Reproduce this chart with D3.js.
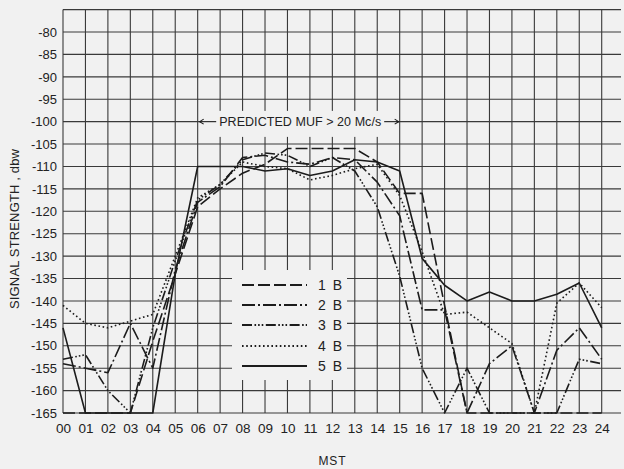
<!DOCTYPE html>
<html>
<head>
<meta charset="utf-8">
<script src="https://cdn.jsdelivr.net/npm/d3@7"></script>
<style>
  html, body { margin: 0; padding: 0; background: #f1f1f1; }
  svg { display: block; }
  text { font-family: "Liberation Sans", Arial, sans-serif; fill: #222; }
</style>
</head>
<body>
<svg id="chart" width="624" height="469"></svg>
<script>
// Hour of day (MST) on the x axis
const hourLabels = ["00","01","02","03","04","05","06","07","08","09","10","11","12",
                    "13","14","15","16","17","18","19","20","21","22","23","24"];
const hours = [0,1,2,3,4,5,6,7,8,9,10,11,12,13,14,15,16,17,18,19,20,21,22,23,24];

// Signal strength tick labels, dbw
const yTickValues = [-80,-85,-90,-95,-100,-105,-110,-115,-120,-125,-130,-135,
                     -140,-145,-150,-155,-160,-165];

// Hourly median signal strength (dbw) for each path
const sig1B = [-165,-165,-165,-165,-149,-134,-119,-115,-111.5,-109.5,-106,-106,-106,-106,
               -109,-116,-116,-141,-165,-165,-165,-165,-165,-165,-165];
const sig2B = [-154,-155,-156,-145,-155,-133,-118,-114.5,-108,-107.5,-109,-109.5,-108,-108.5,
               -113.5,-121,-142,-142,-165,-154,-150,-165,-151,-146,-153];
const sig3B = [-153,-152,-160,-165,-146,-131,-117.5,-114,-108.5,-107,-107.5,-110,-108,-111,
               -119,-134.5,-155,-165,-155,-165,-165,-165,-165,-153,-154];
const sig4B = [-141,-145,-146,-144.5,-143,-130,-117,-114,-109,-110,-110.5,-113,-112,-110.5,
               -109.5,-116.5,-129,-143,-142.5,-146,-149.5,-165,-140.5,-136,-141.5];
const sig5B = [-146,-165,-165,-165,-165,-134,-110,-110,-110,-111,-110.5,-112,-111,-108.5,
               -109,-111,-130.5,-136.5,-140,-138,-140,-140,-138.5,-136,-146];

const seriesNames = ["1 B","2 B","3 B","4 B","5 B"];
const seriesValues = [sig1B, sig2B, sig3B, sig4B, sig5B];

const annotationText = "PREDICTED MUF > 20 Mc/s";
const yTitle = "SIGNAL STRENGTH , dbw";
const xTitle = "MST";

// ---- layout ----
const W = 624, H = 469;
const plotLeft = 63, plotRight = 601.7, plotTop = 9.6, plotBottom = 413;
const gridRight = 621;
const bg = "#f1f1f1";
const ink = "#1c1c1c";

const svg = d3.select("#chart");
svg.append("rect").attr("width", W).attr("height", H).attr("fill", bg);

const x = d3.scaleLinear().domain([0, 24]).range([plotLeft, plotRight]);
const y = d3.scaleLinear().domain([-165, -75]).range([plotBottom, plotTop]);

// graph-paper grid: one line every hour and every 5 dbw
const gridY = d3.range(-165, -74, 5);
const g = svg.append("g");
g.selectAll("line.h").data(gridY).join("line").attr("class", "h")
  .attr("x1", plotLeft).attr("x2", gridRight)
  .attr("y1", d => y(d)).attr("y2", d => y(d))
  .attr("stroke", "#3a3a3a").attr("stroke-width", 1.1);
g.selectAll("line.v").data(hours).join("line").attr("class", "v")
  .attr("x1", d => x(d)).attr("x2", d => x(d))
  .attr("y1", plotTop).attr("y2", plotBottom)
  .attr("stroke", "#3a3a3a").attr("stroke-width", 1.1);

// y tick labels
const yAxis = d3.axisLeft(y).tickValues(yTickValues).tickSize(0).tickPadding(6)
  .tickFormat(d => String(d));
const ya = svg.append("g").attr("transform", `translate(${plotLeft},0)`).call(yAxis);
ya.select(".domain").remove();
ya.selectAll("text").attr("font-size", 13).attr("fill", "#222")
  .attr("font-family", "\"Liberation Sans\", Arial, sans-serif");

// x tick labels
const xAxis = d3.axisBottom(x).tickValues(hours).tickSize(0).tickPadding(10)
  .tickFormat((d, i) => hourLabels[i]);
const xa = svg.append("g").attr("transform", `translate(0,${plotBottom})`).call(xAxis);
xa.select(".domain").remove();
xa.selectAll("text").attr("font-size", 13.5).attr("fill", "#222")
  .attr("font-family", "\"Liberation Sans\", Arial, sans-serif");

// line styles for each path
const dashes = ["12,4", "13,3,2,3", "10,2.5,1.6,2,1.6,2,1.6,2.5", "1.6,2.6", null];

const line = d3.line().x((d, i) => x(hours[i])).y(d => y(d));

// annotation band over the daytime hours
const ann = svg.append("g");
ann.append("rect").attr("x", x(6) + 3).attr("y", y(-97.6)).attr("width", x(15) - x(6) - 6)
  .attr("height", y(-103.4) - y(-97.6)).attr("fill", bg);

// legend panel
const lg = svg.append("g");
lg.append("rect").attr("x", 232).attr("y", 270).attr("width", 115).attr("height", 110)
  .attr("fill", bg);

// data lines
svg.append("g").selectAll("path").data(seriesValues).join("path")
  .attr("d", d => line(d))
  .attr("fill", "none").attr("stroke", ink).attr("stroke-width", 1.6)
  .attr("stroke-linejoin", "round")
  .attr("stroke-dasharray", (d, i) => dashes[i]);

// annotation arrow and text
const ay = y(-100);
const ax0 = x(6) + 2, ax1 = x(15) - 1;
const acx = (ax0 + ax1) / 2 + 1;
const ann2 = svg.append("g");
ann2.append("text").attr("x", acx).attr("y", ay + 4.5)
  .attr("text-anchor", "middle").attr("font-size", 12.5)
  .attr("textLength", 162).attr("lengthAdjust", "spacing")
  .text(annotationText);
const tx0 = acx - 81 - 3, tx1 = acx + 81 + 3;
ann2.append("line").attr("x1", ax0).attr("x2", tx0).attr("y1", ay).attr("y2", ay)
  .attr("stroke", ink).attr("stroke-width", 1.1);
ann2.append("line").attr("x1", tx1).attr("x2", ax1).attr("y1", ay).attr("y2", ay)
  .attr("stroke", ink).attr("stroke-width", 1.1);
ann2.append("path").attr("d", `M${ax0 + 4},${ay - 2.5}L${ax0},${ay}L${ax0 + 4},${ay + 2.5}`)
  .attr("fill", "none").attr("stroke", ink).attr("stroke-width", 1.1);
ann2.append("path").attr("d", `M${ax1 - 4},${ay - 2.5}L${ax1},${ay}L${ax1 - 4},${ay + 2.5}`)
  .attr("fill", "none").attr("stroke", ink).attr("stroke-width", 1.1);

// legend entries
const rowY = [285, 305, 325, 346, 366];
seriesNames.forEach((name, i) => {
  lg.append("line").attr("x1", 242).attr("x2", 307).attr("y1", rowY[i]).attr("y2", rowY[i])
    .attr("stroke", ink).attr("stroke-width", 1.8)
    .attr("stroke-dasharray", dashes[i]);
  lg.append("text").attr("x", 318).attr("y", rowY[i] + 5).attr("font-size", 14)
    .attr("textLength", 24).attr("lengthAdjust", "spacing")
    .text(name);
});

// axis titles
svg.append("text").attr("transform", "translate(19,229) rotate(-90)")
  .attr("text-anchor", "middle").attr("font-size", 13)
  .attr("textLength", 160).attr("lengthAdjust", "spacing")
  .text(yTitle);
svg.append("text").attr("x", 332).attr("y", 465).attr("text-anchor", "middle")
  .attr("font-size", 12)
  .attr("textLength", 27).attr("lengthAdjust", "spacing")
  .text(xTitle);
</script>
</body>
</html>
